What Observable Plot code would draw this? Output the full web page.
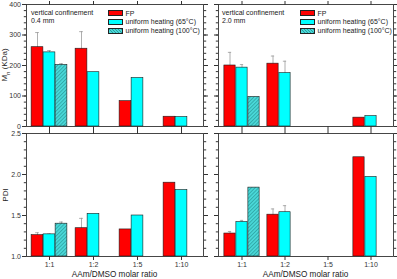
<!DOCTYPE html>
<html><head><meta charset="utf-8">
<script src="https://cdn.jsdelivr.net/npm/d3@7"></script>
<script src="https://cdn.jsdelivr.net/npm/@observablehq/plot@0.6"></script>
<style>
html,body{margin:0;padding:0;background:#fff;}
#chart{position:relative;width:397px;height:279px;overflow:hidden;font-family:"Liberation Sans",Arial,sans-serif;}
#chart svg.pnl{position:absolute;left:0;top:0;overflow:visible;}
.t{position:absolute;white-space:nowrap;color:#222;font-size:7px;line-height:1;}
.sw{position:absolute;width:15px;height:6px;border:0.6px solid #222;box-sizing:border-box;}
.rot{position:absolute;white-space:nowrap;color:#222;font-size:8px;line-height:1;transform:translate(-50%,-50%) rotate(-90deg);}
.xl{position:absolute;white-space:nowrap;color:#222;font-size:8.2px;line-height:1;transform:translate(-50%,-50%);}
</style></head>
<body>
<svg width="0" height="0" style="position:absolute"><defs>
<pattern id="hatch" patternUnits="userSpaceOnUse" width="2.6" height="2.6" patternTransform="rotate(45)">
<rect width="2.6" height="2.6" fill="#4ad9d9"/><line x1="0.5" y1="0" x2="0.5" y2="2.6" stroke="#2a9c9c" stroke-width="0.75"/>
</pattern></defs></svg>
<div id="chart"></div>
<script>
// ---- data ----
const categories = ["1:1", "1:2", "1:5", "1:10"];
const seriesNames = ["FP", "uniform heating (65\u00B0C)", "uniform heating (100\u00B0C)"];
const seriesColors = ["#ff0000", "#00ffff", "url(#hatch)"];

// Mn (kDa), vertical confinement 0.4 mm
const mn04_FP = [260, 255, 83, 32];
const mn04_FP_err = [48, 56, 0, 0];
const mn04_65 = [243, 178, 159, 31];
const mn04_65_err = [6, 0, 0, 0];
const mn04_100 = [202, null, null, null];
const mn04_100_err = [4, 0, 0, 0];
// Mn (kDa), vertical confinement 2.0 mm
const mn20_FP = [200, 206, null, 29];
const mn20_FP_err = [43, 25, 0, 0];
const mn20_65 = [193, 175, null, 34];
const mn20_65_err = [10, 39, 0, 0];
const mn20_100 = [97, null, null, null];
const mn20_100_err = [0, 0, 0, 0];
// PDI, 0.4 mm
const pdi04_FP = [1.26, 1.345, 1.33, 1.90];
const pdi04_FP_err = [0.03, 0.12, 0, 0];
const pdi04_65 = [1.27, 1.52, 1.50, 1.81];
const pdi04_65_err = [0.005, 0, 0, 0];
const pdi04_100 = [1.40, null, null, null];
const pdi04_100_err = [0.02, 0, 0, 0];
// PDI, 2.0 mm
const pdi20_FP = [1.28, 1.51, null, 2.21];
const pdi20_FP_err = [0.025, 0.07, 0, 0];
const pdi20_65 = [1.42, 1.54, null, 1.97];
const pdi20_65_err = [0.02, 0.08, 0, 0];
const pdi20_100 = [1.84, null, null, null];
const pdi20_100_err = [0, 0, 0, 0];

const mnTicks = [0, 100, 200, 300, 400];
const mnMinor = d3.range(0, 401, 20);
const pdiTicks = [1.0, 1.5, 2.0, 2.5];
const pdiMinor = d3.range(10, 26, 1).map(d => d / 10);

function rowsOf(vals, errs) {
  const out = [];
  vals.forEach((v, j) => categories.forEach((c, i) => {
    if (v[i] != null) out.push({cat: c, s: j, v: v[i], err: errs[j][i]});
  }));
  return out;
}

const W = 397, H = 279;
const chart = document.getElementById("chart");

function panel({rows, domain, base, major, minor, fmt, mL, mR, mT, mB, yLabels, xLabels}) {
  const bw = (W - mL - mR) / categories.length;
  const barW = 12;
  const inset = (bw - barW) / 2;
  const offs = [-barW, 0, barW];
  const marks = [];
  const errRows = rows.filter(d => d.err > 0);
  seriesNames.forEach((_, j) => {
    const er = errRows.filter(d => d.s === j);
    marks.push(Plot.ruleX(er, {x: "cat", y1: d => d.v - d.err, y2: d => d.v + d.err, dx: offs[j], stroke: "#9a9a9a", strokeWidth: 0.8}));
    marks.push(Plot.tickY(er, {x: "cat", y: d => d.v + d.err, dx: offs[j], insetLeft: bw / 2 - 2, insetRight: bw / 2 - 2, stroke: "#9a9a9a", strokeWidth: 0.8}));
  });
  seriesNames.forEach((_, j) => {
    marks.push(Plot.barY(rows.filter(d => d.s === j), {x: "cat", y1: base, y2: "v", dx: offs[j], insetLeft: inset, insetRight: inset, fill: seriesColors[j], stroke: "#1a1a1a", strokeWidth: 0.6}));
  });
  const tc = "#333";
  marks.push(
    Plot.axisY({ticks: major, tickSize: 4, tickPadding: 1.5, tickFormat: fmt, label: null, stroke: tc, fill: yLabels ? "#333" : "none"}),
    Plot.axisY({ticks: minor, tickSize: 2.2, label: null, stroke: tc, fill: "none"}),
    Plot.axisY({anchor: "right", ticks: major, tickSize: 4, label: null, stroke: tc, fill: "none"}),
    Plot.axisY({anchor: "right", ticks: minor, tickSize: 2.2, label: null, stroke: tc, fill: "none"}),
    Plot.axisX({anchor: "bottom", tickSize: 4, tickPadding: 1.5, label: null, stroke: tc, fill: xLabels ? "#333" : "none"}),
    Plot.axisX({anchor: "top", tickSize: 4, label: null, stroke: tc, fill: "none"}),
    Plot.frame({stroke: "#333", strokeWidth: 0.9})
  );
  const svg = Plot.plot({
    width: W, height: H,
    marginLeft: mL, marginRight: mR, marginTop: mT, marginBottom: mB,
    x: {type: "band", domain: categories, padding: 0},
    y: {domain, nice: false},
    style: {fontSize: "7px", fontFamily: "'Liberation Sans', Arial, sans-serif", background: "transparent", overflow: "visible"},
    marks
  });
  svg.classList.add("pnl");
  chart.appendChild(svg);
}

const mnFmt = d3.format("d");
const pdiFmt = d3.format(".1f");
const L = {mL: 26, mR: W - 203}, R = {mL: 218, mR: W - 393};
const T = {mT: 4, mB: H - 126}, B = {mT: 133, mB: H - 256};

panel({rows: rowsOf([mn04_FP, mn04_65, mn04_100], [mn04_FP_err, mn04_65_err, mn04_100_err]), domain: [0, 400], base: 0, major: mnTicks, minor: mnMinor, fmt: mnFmt, ...L, ...T, yLabels: true, xLabels: false});
panel({rows: rowsOf([mn20_FP, mn20_65, mn20_100], [mn20_FP_err, mn20_65_err, mn20_100_err]), domain: [0, 400], base: 0, major: mnTicks, minor: mnMinor, fmt: mnFmt, ...R, ...T, yLabels: false, xLabels: false});
panel({rows: rowsOf([pdi04_FP, pdi04_65, pdi04_100], [pdi04_FP_err, pdi04_65_err, pdi04_100_err]), domain: [1, 2.5], base: 1, major: pdiTicks, minor: pdiMinor, fmt: pdiFmt, ...L, ...B, yLabels: true, xLabels: true});
panel({rows: rowsOf([pdi20_FP, pdi20_65, pdi20_100], [pdi20_FP_err, pdi20_65_err, pdi20_100_err]), domain: [1, 2.5], base: 1, major: pdiTicks, minor: pdiMinor, fmt: pdiFmt, ...R, ...B, yLabels: false, xLabels: true});

// ---- annotations / legends ----
function addText(cls, html, left, top, extra) {
  const d = document.createElement("div");
  d.className = cls; d.innerHTML = html;
  d.style.left = left + "px"; d.style.top = top + "px";
  if (extra) Object.assign(d.style, extra);
  chart.appendChild(d);
  return d;
}
const confinements = ["0.4 mm", "2.0 mm"];
[[31, 108], [222, 300]].forEach(([tx, lx], k) => {
  addText("t", "vertical confinement", tx, 8.5);
  addText("t", confinements[k], tx, 16.5);
  seriesNames.forEach((name, j) => {
    const y = 10 + j * 8.8;
    const sw = document.createElement("div");
    sw.className = "sw";
    sw.style.left = lx + "px"; sw.style.top = y + "px";
    sw.style.background = j === 2
      ? "repeating-linear-gradient(45deg,#2a9c9c 0 0.7px,#4ad9d9 0.7px 2.2px)"
      : seriesColors[j];
    chart.appendChild(sw);
    addText("t", name, lx + 17.5, y - 0.5);
  });
});
addText("rot", "M<sub style='font-size:6px'>n</sub> (KDa)", 6, 65);
addText("rot", "PDI", 6, 195);
addText("xl", "AAm/DMSO molar ratio", 114.5, 274.5);
addText("xl", "AAm/DMSO molar ratio", 305.5, 274.5);
</script>
</body></html>
